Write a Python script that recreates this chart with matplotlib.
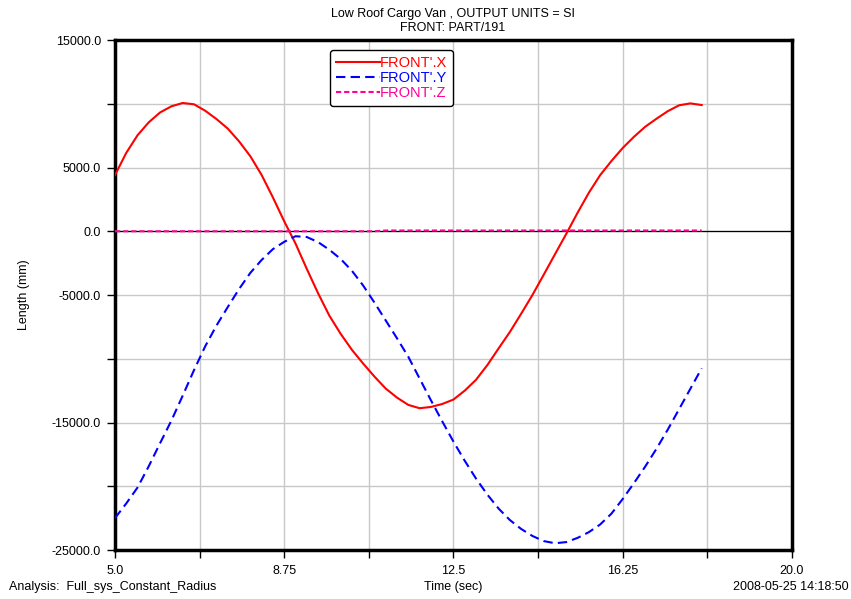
import numpy as np
import matplotlib
matplotlib.use('Agg')
import matplotlib.pyplot as plt

plt.rcParams['font.family'] = ['Liberation Sans', 'DejaVu Sans']

# values (time in sec, length in mm)
time = [5.0, 5.25, 5.5, 5.75, 6.0, 6.25, 6.5, 6.75, 7.0, 7.25, 7.5, 7.75,
        8.0, 8.25, 8.5, 8.75, 9.0, 9.25, 9.5, 9.75, 10.0, 10.25, 10.5, 10.75,
        11.0, 11.25, 11.5, 11.75, 12.0, 12.25, 12.5, 12.75, 13.0, 13.25,
        13.5, 13.75, 14.0, 14.25, 14.5, 14.75, 15.0, 15.25, 15.5, 15.75,
        16.0, 16.25, 16.5, 16.75, 17.0, 17.25, 17.5, 17.75, 18.0]
front_x = [4400, 6150, 7530, 8550, 9320, 9800, 10060, 9960, 9450, 8800,
           8050, 7050, 5880, 4410, 2650, 780, -960, -2950, -4860, -6620,
           -8040, -9300, -10380, -11400, -12340, -13050, -13620, -13880,
           -13780, -13550, -13200, -12500, -11650, -10500, -9190, -7900,
           -6470, -5000, -3410, -1800, -200, 1450, 3020, 4400, 5510, 6530,
           7410, 8200, 8830, 9420, 9880, 10030, 9900]
front_y = [-22500, -21350, -20100, -18420, -16620, -14850, -12900, -10900,
           -9020, -7390, -5940, -4530, -3260, -2250, -1400, -830, -390, -450,
           -850, -1450, -2170, -3100, -4260, -5600, -7000, -8400, -9850,
           -11550, -13250, -14900, -16500, -18000, -19400, -20650, -21750,
           -22650, -23350, -23900, -24300, -24470, -24380, -24050, -23600,
           -23000, -22150, -21000, -19750, -18450, -17050, -15550, -13950,
           -12350, -10750]
front_z = [0, 0, 0, 0, 0, 0, 0, 0, 0, 0, 0, 0, 0, 0, 0, 0, 0, 0, 0, 0, 0,
           0, 0, 0, 60, 60, 60, 60, 60, 60, 60, 60, 60, 60, 60, 60, 60, 60,
           60, 60, 60, 60, 60, 60, 60, 60, 60, 60, 60, 60, 60, 60, 60]

xtick_labels = ['5.0', '', '8.75', '', '12.5', '', '16.25', '', '20.0']
yticks = [15000, 5000, 0, -5000, -15000, -25000]
ytick_labels = ['15000.0', '5000.0', '0.0', '-5000.0', '-15000.0', '-25000.0']

fig = plt.figure(figsize=(8.51, 5.99), dpi=100)
ax = fig.add_axes([0.1351, 0.0818, 0.7955, 0.8514])

ax.set_xlim(5, 20)
ax.set_ylim(-25000, 15000)

# grid every 1.875 s and every 5000 mm
for gx in np.arange(5, 20.01, 1.875):
    ax.axvline(gx, color='#c8c8c8', lw=1.0, zorder=0)
for gy in np.arange(-25000, 15001, 5000):
    ax.axhline(gy, color='#c8c8c8', lw=1.0, zorder=0)
ax.axhline(0, color='black', lw=0.9, zorder=1)

ax.plot(time, front_x, color='#ff0000', lw=1.5, label="FRONT'.X", zorder=3)
ax.plot(time, front_y, color='#0000ff', lw=1.5, dashes=(4.5, 2.5), label="FRONT'.Y", zorder=3)
ax.plot(time, front_z, color='#ff0099', lw=1.5, dashes=(2.5, 1.4), label="FRONT'.Z", zorder=4)

ax.set_xticks(np.arange(5, 20.01, 1.875))
ax.set_xticklabels(xtick_labels)
ax.set_yticks(np.arange(-25000, 15001, 5000))
ylab = {v: l for v, l in zip(yticks, ytick_labels)}
ax.set_yticklabels([ylab.get(v, '') for v in np.arange(-25000, 15001, 5000)])
ax.tick_params(direction='out', length=6, width=1, labelsize=9, color='black')
ax.tick_params(axis='x', pad=5)
ax.tick_params(axis='y', pad=4)

for s in ax.spines.values():
    s.set_linewidth(2.5)

ax.set_ylabel('Length (mm)', fontsize=9)
ax.yaxis.set_label_coords(-0.1256, 0.5)

fig.text(0.532, 0.977, 'Low Roof Cargo Van , OUTPUT UNITS = SI', ha='center', va='center', fontsize=9)
fig.text(0.532, 0.953, 'FRONT: PART/191', ha='center', va='center', fontsize=9)
fig.text(0.010, 0.020, 'Analysis:  Full_sys_Constant_Radius', ha='left', va='center', fontsize=9)
fig.text(0.532, 0.020, 'Time (sec)', ha='center', va='center', fontsize=9)
fig.text(0.997, 0.020, '2008-05-25 14:18:50', ha='right', va='center', fontsize=9)

leg = ax.legend(loc='upper left', bbox_to_anchor=(0.3176, 0.980), fontsize=10.5,
                handlelength=3.0, handletextpad=0.0, borderpad=0.4,
                borderaxespad=0, labelspacing=0.08, fancybox=True,
                framealpha=1, edgecolor='black')
leg.get_frame().set_linewidth(1.0)
for txt, line in zip(leg.get_texts(), leg.get_lines()):
    txt.set_color(line.get_color())

fig.savefig('out.png', dpi=100)
